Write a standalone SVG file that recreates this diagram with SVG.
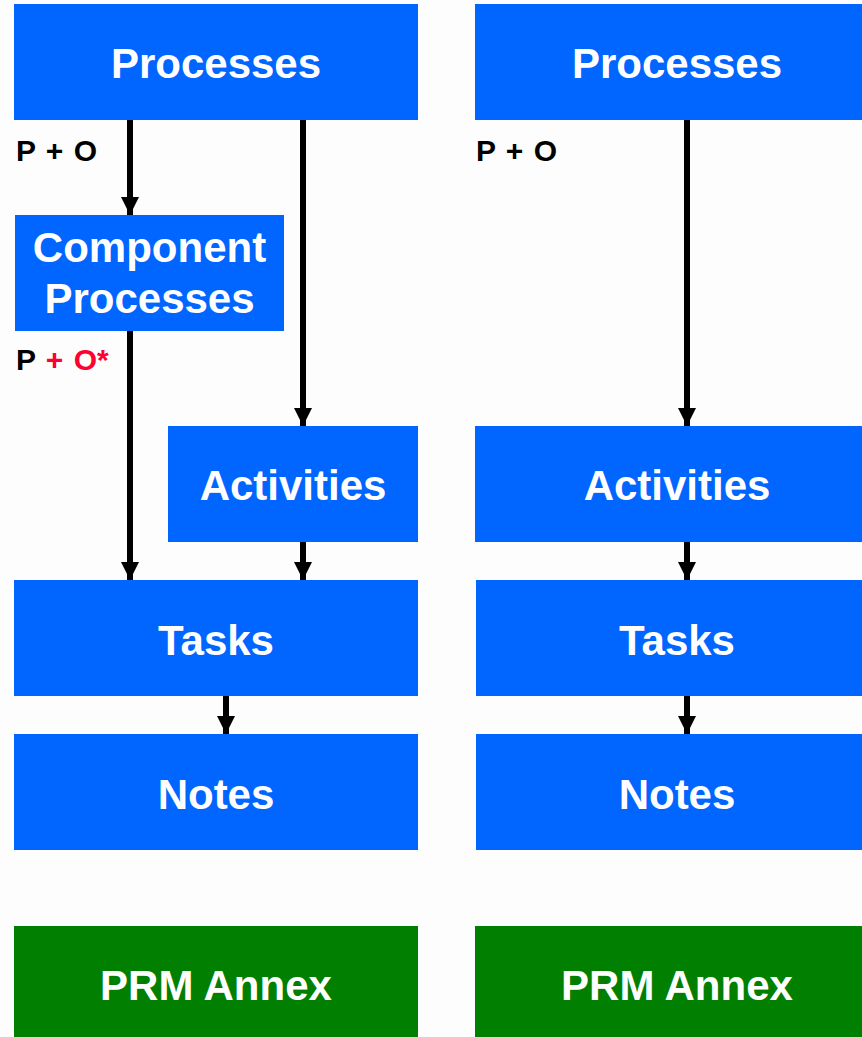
<svg xmlns="http://www.w3.org/2000/svg" width="862" height="1037" viewBox="0 0 862 1037">
<style>
.box{fill:#0066FF}
.green{fill:#007F00}
.lbl{font-family:"Liberation Sans",Arial,sans-serif;font-weight:bold;font-size:42px;fill:#FFFFFF;text-anchor:middle}
.po{font-family:"Liberation Sans",Arial,sans-serif;font-weight:bold;font-size:30px;fill:#000000;word-spacing:2px}
.red{fill:#FF0033}
.conn{stroke:#000000;stroke-width:6;fill:none;marker-end:url(#ah)}
</style>
<defs>
<marker id="ah" markerUnits="userSpaceOnUse" markerWidth="18" markerHeight="18" refX="18" refY="9" orient="auto" viewBox="0 0 18 18">
<polygon points="0,0 18,9 0,18" fill="#000000"/>
</marker>
</defs>
<rect x="0" y="0" width="862" height="1037" fill="#FDFDFD"/>

<g id="connectors">
<line class="conn" x1="130" y1="120" x2="130" y2="215"/>
<line class="conn" x1="130" y1="331" x2="130" y2="580"/>
<line class="conn" x1="303" y1="120" x2="303" y2="426"/>
<line class="conn" x1="303" y1="542" x2="303" y2="580"/>
<line class="conn" x1="226" y1="696" x2="226" y2="734"/>
<line class="conn" x1="687" y1="120" x2="687" y2="426"/>
<line class="conn" x1="687" y1="542" x2="687" y2="580"/>
<line class="conn" x1="687" y1="696" x2="687" y2="734"/>
</g>

<g id="processes-left">
<rect class="box" x="14" y="4" width="404" height="116"/>
<text class="lbl" x="216" y="78">Processes</text>
</g>
<g id="component-processes">
<rect class="box" x="15" y="215" width="269" height="116"/>
<text class="lbl" x="149.5" y="262">Component</text>
<text class="lbl" x="149.5" y="313">Processes</text>
</g>
<g id="activities-left">
<rect class="box" x="168" y="426" width="250" height="116"/>
<text class="lbl" x="293" y="500">Activities</text>
</g>
<g id="tasks-left">
<rect class="box" x="14" y="580" width="404" height="116"/>
<text class="lbl" x="216" y="655">Tasks</text>
</g>
<g id="notes-left">
<rect class="box" x="14" y="734" width="404" height="116"/>
<text class="lbl" x="216" y="809">Notes</text>
</g>
<g id="prm-left">
<rect class="green" x="14" y="926" width="404" height="116"/>
<text class="lbl" x="216" y="1000">PRM Annex</text>
</g>

<g id="processes-right">
<rect class="box" x="475" y="4" width="403" height="116"/>
<text class="lbl" x="677" y="78">Processes</text>
</g>
<g id="activities-right">
<rect class="box" x="475" y="426" width="403" height="116"/>
<text class="lbl" x="677" y="500">Activities</text>
</g>
<g id="tasks-right">
<rect class="box" x="476" y="580" width="402" height="116"/>
<text class="lbl" x="677" y="655">Tasks</text>
</g>
<g id="notes-right">
<rect class="box" x="476" y="734" width="402" height="116"/>
<text class="lbl" x="677" y="809">Notes</text>
</g>
<g id="prm-right">
<rect class="green" x="475" y="926" width="403" height="116"/>
<text class="lbl" x="677" y="1000">PRM Annex</text>
</g>

<g id="labels">
<text class="po" x="16" y="161">P + O</text>
<text class="po" x="16" y="370">P <tspan class="red">+ O*</tspan></text>
<text class="po" x="476" y="161">P + O</text>
</g>
</svg>
